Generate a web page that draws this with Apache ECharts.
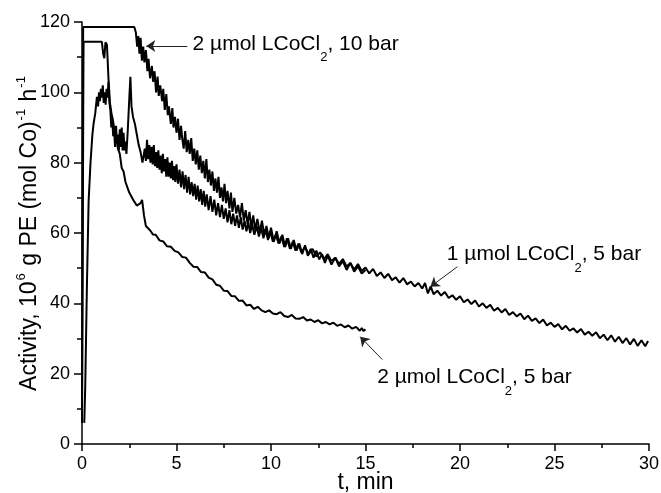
<!DOCTYPE html>
<html>
<head>
<meta charset="utf-8">
<script src="https://cdn.jsdelivr.net/npm/echarts@6/dist/echarts.min.js"></script>
<style>html,body{margin:0;padding:0;background:#fff}#c{width:661px;height:493px}</style>
</head>
<body>
<div id="c"></div>
<script>
// x tick labels / y tick labels
const xTicks = [0, 5, 10, 15, 20, 25, 30];
const yTicks = [0, 20, 40, 60, 80, 100, 120];

// 2 µmol LCoCl2, 10 bar : [t (min), activity]
const series10bar = [
[0.0,6],[0.03,60],[0.06,118.6],[2.77,118.6],
[2.85,117],[2.92,113],[2.98,116],[3.04,111],[3.1,115.5],[3.17,109],[3.24,113],[3.3,108.5],[3.38,112],[3.46,106],[3.52,109.5],[3.6,104],[3.7,107.5],[3.76,103],[3.84,106],[3.92,100],[4.0,104.5],[4.06,99],[4.14,102],[4.24,97.5],[4.3,101],[4.38,95],[4.46,99.5],[4.54,93.5],[4.6,96],[4.7,91],[4.78,95.5],[4.84,90],[4.92,93],[5.0,88.5],[5.08,92.5],[5.16,86.5],[5.24,90.5],[5.3,87],[5.38,84],[5.46,89],[5.54,83],[5.62,86.5],[5.7,82.5],[5.78,87],[5.86,80.5],[5.94,84],[6.02,79.5],[6.1,83.5],[6.18,78],[6.26,82],[6.34,77],[6.42,80.5],[6.5,75.5],[6.58,81],[6.66,74.5],[6.74,78],[6.82,73.5],[6.9,77.5],[6.98,72],[7.06,75.5],[7.14,71.5],[7.22,76],[7.3,70],[7.38,73],[7.46,69],[7.54,74],[7.62,68.5],[7.7,72],[7.8,67],[7.88,71.5],[7.96,66],[8.06,70],[8.16,65.5],[8.26,68],[8.36,64.5],[8.46,68.5],[8.56,63.5],[8.66,66.5],[8.76,62.5],[8.86,66],[8.96,61.5],[9.06,65],[9.16,61],[9.28,64],[9.4,60],[9.52,63.5],[9.64,59.5],[9.76,62],[9.88,58.5],[10.0,61.5],[10.15,57.5],[10.3,60.5],[10.45,57],[10.6,59.5],[10.75,56],[10.9,58.5],[11.05,55.5],[11.2,58],[11.35,55],[11.5,57],[11.65,54],[11.8,56.5],[11.95,53.5],[12.1,55.5],[12.25,53],[12.4,55],[12.55,52.5],[12.7,54],[12.85,51.5],[13.0,53.5],[13.2,51],[13.4,53],[13.6,50.5],[13.8,52],[14.0,49.5],[14.2,51.5],[14.4,49],[14.6,50.5],[14.8,48.5],[15.0,49.5]
];

// 1 µmol LCoCl2, 5 bar
const series1umol = [
[0.12,6],[0.17,16],[0.26,45],[0.35,69],[0.45,80],[0.55,88],[0.61,91],[0.7,94],[0.79,98.7],[0.85,96],[0.9,100],[0.95,97.5],[1.0,101],[1.05,98.5],[1.1,102],[1.15,97],[1.2,100],[1.25,96.5],[1.3,101],[1.35,98.5],[1.4,103],[1.45,97],[1.5,95],[1.55,90],[1.6,92.5],[1.65,87.5],[1.7,89],[1.75,84.5],[1.8,90.5],[1.85,85.5],[1.9,88],[1.95,83.5],[2.0,89.5],[2.05,84.5],[2.1,90],[2.15,83.5],[2.2,88.5],[2.25,83.5],[2.3,86],[2.35,82.5],[2.42,89],[2.5,98],[2.56,104.4],[2.62,96],[2.7,93],[2.8,91],[2.9,88],[3.0,85],[3.1,83],[3.2,80],[3.26,79.8],
[3.32,84],[3.38,80.5],[3.44,86.5],[3.5,81],[3.56,85],[3.62,80],[3.68,84.5],[3.74,79.5],[3.8,85],[3.86,79],[3.92,83],[3.98,78.5],[4.04,83.5],[4.1,78],[4.16,82],[4.22,77],[4.28,82.5],[4.34,77.5],[4.4,81],[4.46,76],[4.52,81.5],[4.58,76],[4.64,80],[4.7,75.5],[4.76,80.5],[4.82,75],[4.88,79],[4.94,74.5],[5.0,79.5],[5.08,74],[5.16,78],[5.24,73],[5.32,77.5],[5.4,72.5],[5.48,76.5],[5.56,71.5],[5.64,76],[5.72,71],[5.8,74.5],[5.88,70.5],[5.96,74],[6.04,69.5],[6.12,73.5],[6.2,69],[6.28,72.5],[6.36,68],[6.44,72],[6.52,67.5],[6.6,71],[6.7,66.5],[6.8,70.5],[6.9,66],[7.0,69.5],[7.1,65],[7.2,68.5],[7.3,64.5],[7.4,68],[7.5,64],[7.6,67],[7.7,63],[7.8,66.5],[7.9,62.5],[8.0,65.5],[8.1,62],[8.2,65],[8.3,61.5],[8.4,64.5],[8.5,61],[8.6,63.5],[8.7,60.5],[8.8,63],[8.9,60],[9.0,62.5],[9.12,59.5],[9.24,62],[9.36,59],[9.48,61.5],[9.6,58.5],[9.72,61],[9.84,58],[9.96,60.5],[10.1,57.5],[10.25,59.5],[10.4,57],[10.55,59],[10.7,56],[10.85,58.5],[11.0,55.5],[11.15,57.5],[11.3,55],[11.45,57],[11.6,54.5],[11.8,56],[12.0,54],
[12.2,55.5],[12.4,53.3],[12.6,54.5],[12.8,52.5],[13.0,54],[13.2,52],[13.4,53],[13.6,51.2],[13.8,52.6],[14.0,50.5],[14.2,51.5],[14.4,49.6],[14.6,51.2],[14.8,49.2],[15.0,50.2],[15.2,48.5],[15.4,49.8],[15.6,47.8],[15.8,48.8],[16.0,47.2],[16.2,48.4],[16.4,46.6],[16.6,47.4],[16.8,45.9],[17.0,47.2],[17.2,45.4],[17.4,46.2],[17.6,44.8],[17.8,45.8],[18.0,44.2],[18.15,45.8],[18.3,42.8],[18.45,44.8],[18.6,42.6],[18.8,43.6],[19.0,42.2],[19.2,43.2],[19.4,41.5],[19.6,42.3],[19.8,41],[20.0,42],[20.2,40.3],[20.4,41.1],[20.6,39.8],[20.8,40.8],[21.0,39.1],[21.2,40],[21.4,38.7],[21.6,39.6],[21.8,37.9],[22.0,38.7],[22.2,37.4],[22.4,38.4],[22.6,36.7],[22.8,37.5],[23.0,36.3],[23.2,37.1],[23.4,35.5],[23.6,36.5],[23.8,35],[24.0,35.7],[24.2,34.4],[24.4,35.4],[24.6,33.7],[24.8,34.5],[25.0,33.3],[25.2,34.1],[25.4,32.6],[25.6,33.6],[25.8,32.2],[26.0,32.9],[26.2,31.7],[26.4,32.7],[26.6,31.1],[26.8,31.9],[27.0,30.8],[27.2,31.8],[27.4,30.1],[27.6,31.1],[27.8,29.5],[28.0,30.9],[28.2,29.1],[28.4,30.5],[28.6,28.7],[28.8,30.1],[29.0,28.3],[29.2,29.9],[29.4,27.9],[29.6,29.5],[29.8,27.8],[29.95,29.3]
];

// 2 µmol LCoCl2, 5 bar
const series2umol5 = [
[0.0,8],[0.04,60],[0.08,114.4],[1.05,114.4],[1.12,111],[1.18,109.7],[1.24,114.2],[1.32,113.5],[1.4,104],[1.48,97],[1.56,94],[1.64,92],[1.72,89],[1.8,87.5],[1.9,84],[2.0,82.5],[2.1,78.5],[2.2,77.5],[2.3,74.5],[2.4,74],[2.5,71.5],[2.6,71.5],[2.7,69.5],[2.8,69.3],[2.9,67.8],[3.0,67.5],[3.1,68.5],[3.18,69.4],[3.28,65],[3.38,62],[3.48,61.5],[3.6,60.8],[3.75,59.6],[3.9,59.5],[4.1,57.9],[4.3,57.6],[4.5,56.2],[4.7,56.1],[4.9,54.9],[5.1,54.5],[5.3,53.2],[5.5,53.0],[5.7,51.5],[5.9,50.4],[6.1,50.3],[6.3,48.9],[6.5,48.8],[6.7,47.3],[6.9,46.8],[7.1,45.3],[7.3,45.0],[7.5,43.6],[7.7,43.5],[7.9,42.1],[8.1,42.0],[8.3,40.7],[8.5,40.8],[8.7,39.4],[8.9,39.6],[9.1,38.4],[9.3,39.0],[9.5,38.0],[9.7,37.5],[9.9,38.0],[10.1,37.1],[10.3,36.9],[10.5,37.5],[10.7,36.4],[10.9,36.1],[11.1,36.7],[11.3,35.7],[11.5,35.6],[11.7,36.1],[11.9,35.1],[12.1,35.4],[12.3,34.7],[12.5,35.2],[12.7,34.3],[12.9,34.7],[13.1,34.0],[13.3,34.5],[13.5,33.6],[13.7,34.0],[13.9,33.2],[14.1,33.7],[14.3,32.8],[14.5,33.3],[14.7,32.2],[14.8,33.0],[14.9,32.1],[15.0,32.6]
];

// annotation texts and arrows, in data coordinates: [tail, tip], text anchor (left-middle)
const labels = [
  {text: ['2 µmol LCoCl', '2', ', 10 bar'], arrow: [[5.57,113.2],[3.40,113.2]], at: [5.85,113.2]},
  {text: ['1 µmol LCoCl', '2', ', 5 bar'], arrow: [[19.86,50.4],[18.43,44.7]], at: [19.3,53.3]},
  {text: ['2 µmol LCoCl', '2', ', 5 bar'], arrow: [[15.89,24.0],[14.72,30.5]], at: [15.62,18.3]}
];

const FONT = '"Liberation Sans", Arial, Helvetica, sans-serif';
const chart = echarts.init(document.getElementById('c'), null, {renderer: 'canvas'});

const lineSeries = (name, data) => ({
  name, type: 'line', data, showSymbol: false, symbol: 'none', animation: false,
  lineStyle: {color: '#000', width: 2}, z: 3
});

const arrowSeries = {
  type: 'line', data: [], animation: false, silent: true,
  markLine: {
    silent: true, animation: false,
    symbol: ['none', 'arrow'], symbolSize: 9,
    label: {show: false},
    lineStyle: {color: '#222', width: 1, type: 'solid'},
    emphasis: {disabled: true},
    data: labels.map(l => [{coord: l.arrow[0]}, {coord: l.arrow[1]}])
  }
};

chart.setOption({
  animation: false,
  backgroundColor: '#fff',
  grid: {left: 82, right: 12, top: 22, bottom: 49, containLabel: false, outerBoundsMode: 'none'},
  xAxis: {
    type: 'value', min: xTicks[0], max: xTicks[xTicks.length - 1], interval: 5,
    name: 't, min', nameLocation: 'middle', nameGap: 27, nameMoveOverlap: false,
    nameTextStyle: {color: '#000', fontSize: 23, fontFamily: FONT},
    axisLine: {show: true, onZero: false, lineStyle: {color: '#000', width: 1.5}},
    axisTick: {show: true, inside: false, length: 7, lineStyle: {color: '#000', width: 1.5}},
    minorTick: {show: true, splitNumber: 2, length: 4, lineStyle: {color: '#000', width: 1.5}},
    splitLine: {show: false},
    axisLabel: {color: '#000', fontSize: 18, fontFamily: FONT, margin: 11,
      formatter: v => xTicks.includes(v) ? String(v) : ''}
  },
  yAxis: {
    type: 'value', min: yTicks[0], max: yTicks[yTicks.length - 1], interval: 20,
    name: '{a|Activity, 10}{sup|6}{a| g PE (mol Co)}{sup|-1}{a| h}{sup|-1}',
    nameLocation: 'middle', nameGap: 41, nameRotate: 90, nameMoveOverlap: false,
    nameTextStyle: {color: '#000', fontSize: 23, fontFamily: FONT,
      rich: {
        a: {fontSize: 23, fontFamily: FONT, color: '#000', verticalAlign: 'bottom', lineHeight: 26},
        sup: {fontSize: 13, fontFamily: FONT, color: '#000', verticalAlign: 'top', lineHeight: 26, padding: [0,1,0,1]}
      }},
    axisLine: {show: true, onZero: false, lineStyle: {color: '#000', width: 1.5}},
    axisTick: {show: true, inside: false, length: 8, lineStyle: {color: '#000', width: 1.5}},
    minorTick: {show: true, splitNumber: 2, length: 5, lineStyle: {color: '#000', width: 1.5}},
    splitLine: {show: false},
    axisLabel: {color: '#000', fontSize: 18, fontFamily: FONT, margin: 12,
      formatter: v => yTicks.includes(v) ? String(v) : ''}
  },
  series: [
    lineSeries('2 µmol LCoCl2, 10 bar', series10bar),
    lineSeries('1 µmol LCoCl2, 5 bar', series1umol),
    lineSeries('2 µmol LCoCl2, 5 bar', series2umol5),
    arrowSeries
  ]
});

// place annotation texts from data coordinates
const graphics = labels.map(l => {
  const p = chart.convertToPixel({gridIndex: 0}, l.at);
  return {
    type: 'text', x: p[0], y: p[1], z: 10,
    style: {
      text: '{a|' + l.text[0] + '}{s|' + l.text[1] + '}{a|' + l.text[2] + '}',
      verticalAlign: 'middle', align: 'left',
      rich: {
        a: {fontSize: 21, fontFamily: FONT, fill: '#000', verticalAlign: 'top', lineHeight: 25},
        s: {fontSize: 13, fontFamily: FONT, fill: '#000', verticalAlign: 'bottom', lineHeight: 25, padding: [0,0,-6,0]}
      }
    }
  };
});
chart.setOption({graphic: graphics});
</script>
</body>
</html>
